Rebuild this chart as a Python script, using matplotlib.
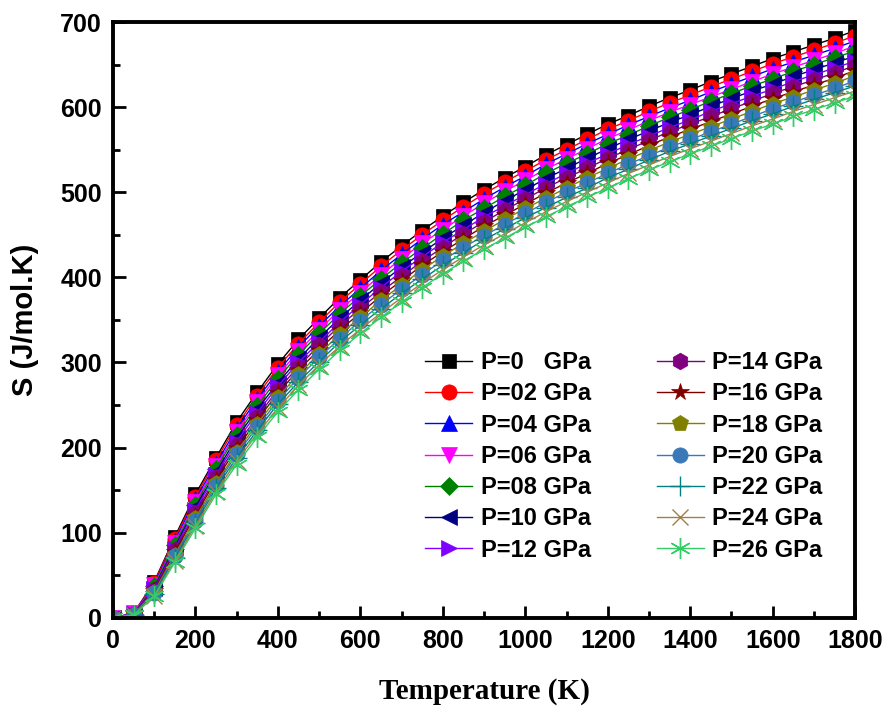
import matplotlib
matplotlib.use("Agg")
import matplotlib.pyplot as plt
from matplotlib.ticker import MultipleLocator

# Temperature grid (K)
temps = [0, 50, 100, 150, 200, 250, 300, 350, 400, 450, 500, 550, 600, 650, 700, 750,
         800, 850, 900, 950, 1000, 1050, 1100, 1150, 1200, 1250, 1300, 1350, 1400,
         1450, 1500, 1550, 1600, 1650, 1700, 1750, 1800]

# Entropy S (J/mol.K) at each pressure
s_p00 = [0, 5, 42, 95, 145, 188, 230, 265, 298, 327, 352, 376, 397, 418, 437, 455, 472, 488, 503, 517, 530, 544, 556, 568, 580, 590, 601, 611, 620, 630, 639, 648, 657, 665, 673, 681, 690]
s_p02 = [0, 5, 41, 93, 142, 185, 226, 261, 294, 322, 347, 371, 392, 413, 432, 450, 467, 483, 498, 512, 525, 538, 550, 562, 574, 584, 595, 605, 614, 624, 633, 642, 651, 659, 667, 675, 684]
s_p04 = [0, 5, 39, 90, 139, 181, 222, 257, 289, 318, 343, 366, 387, 408, 427, 445, 462, 477, 492, 506, 519, 533, 545, 557, 568, 579, 589, 599, 608, 618, 627, 636, 645, 653, 661, 669, 678]
s_p06 = [0, 5, 38, 88, 136, 178, 218, 253, 285, 313, 338, 362, 382, 403, 422, 440, 456, 472, 487, 501, 514, 527, 539, 551, 563, 573, 584, 594, 603, 612, 621, 630, 639, 647, 655, 663, 672]
s_p08 = [0, 4, 37, 86, 133, 175, 215, 249, 281, 309, 334, 357, 378, 398, 417, 434, 451, 467, 481, 495, 508, 522, 534, 545, 557, 567, 578, 588, 597, 607, 616, 625, 633, 642, 650, 658, 666]
s_p10 = [0, 4, 35, 83, 130, 171, 211, 245, 276, 304, 329, 352, 373, 393, 412, 429, 446, 461, 476, 490, 503, 516, 528, 540, 551, 562, 572, 582, 591, 601, 610, 619, 627, 636, 644, 652, 660]
s_p12 = [0, 4, 34, 81, 127, 168, 207, 241, 272, 300, 324, 347, 368, 388, 407, 424, 441, 456, 471, 484, 497, 510, 522, 534, 545, 556, 566, 576, 585, 595, 604, 613, 621, 630, 638, 646, 654]
s_p14 = [0, 4, 33, 79, 123, 165, 203, 236, 268, 295, 320, 343, 363, 383, 401, 419, 435, 451, 465, 479, 492, 505, 517, 528, 540, 550, 561, 571, 580, 589, 598, 607, 616, 624, 632, 640, 649]
s_p16 = [0, 4, 31, 77, 120, 162, 199, 232, 264, 291, 315, 338, 358, 378, 396, 414, 430, 445, 460, 473, 486, 499, 511, 522, 534, 544, 555, 565, 574, 583, 592, 601, 610, 618, 626, 634, 643]
s_p18 = [0, 4, 30, 74, 117, 158, 195, 228, 259, 286, 310, 333, 353, 373, 391, 409, 425, 440, 454, 468, 481, 493, 505, 517, 528, 539, 549, 559, 568, 577, 586, 595, 604, 612, 620, 628, 637]
s_p20 = [0, 3, 29, 72, 114, 155, 192, 224, 255, 282, 306, 328, 349, 368, 386, 403, 420, 435, 449, 462, 475, 488, 500, 511, 522, 533, 543, 553, 562, 571, 580, 589, 598, 606, 614, 622, 631]
s_p22 = [0, 3, 28, 70, 111, 152, 188, 220, 251, 277, 301, 324, 344, 363, 381, 398, 414, 429, 444, 457, 470, 482, 494, 505, 517, 527, 538, 548, 557, 566, 575, 584, 592, 601, 609, 617, 625]
s_p24 = [0, 3, 26, 67, 108, 148, 184, 216, 246, 273, 297, 319, 339, 358, 376, 393, 409, 424, 438, 451, 464, 477, 489, 500, 511, 522, 532, 542, 551, 560, 569, 578, 586, 595, 603, 611, 619]
s_p26 = [0, 3, 25, 65, 105, 145, 180, 212, 242, 268, 292, 314, 334, 353, 371, 388, 404, 419, 433, 446, 459, 471, 483, 494, 505, 516, 526, 536, 545, 554, 563, 572, 580, 589, 597, 605, 613]

labels = ["P=0   GPa", "P=02 GPa", "P=04 GPa", "P=06 GPa", "P=08 GPa", "P=10 GPa", "P=12 GPa",
          "P=14 GPa", "P=16 GPa", "P=18 GPa", "P=20 GPa", "P=22 GPa", "P=24 GPa", "P=26 GPa"]
series = [s_p00, s_p02, s_p04, s_p06, s_p08, s_p10, s_p12,
          s_p14, s_p16, s_p18, s_p20, s_p22, s_p24, s_p26]

# (colour, marker, size)
styles = [
    ("black", "s", 10),
    ("red", "o", 11),
    ("blue", "^", 11),
    ("magenta", "v", 11),
    ("#008000", "D", 9),
    ("#000080", "<", 11),
    ("#8000FF", ">", 11),
    ("#800080", "h", 12),
    ("#800000", "*", 13),
    ("#808000", "p", 12),
    ("#3A78B8", "o", 11),
    ("#008080", "+", 14),
    ("#A0804A", "x", 12),
    ("#33CC66", (6, 2, 0), 15),
]

fig = plt.figure(figsize=(8.89, 7.10), dpi=100)
ax = fig.add_axes([0.127, 0.130, 0.835, 0.839])

for s, lab, (c, m, ms) in zip(series, labels, styles):
    hollow = m in ("+", "x") or isinstance(m, tuple)
    ax.plot(temps, s, color=c, marker=m, markersize=ms, linewidth=1.0,
            markeredgewidth=1.0 if hollow else 0.5,
            markeredgecolor=c, label=lab)

ax.set_xlim(0, 1800)
ax.set_ylim(0, 700)
ax.xaxis.set_major_locator(MultipleLocator(200))
ax.xaxis.set_minor_locator(MultipleLocator(100))
ax.yaxis.set_major_locator(MultipleLocator(100))
ax.yaxis.set_minor_locator(MultipleLocator(50))
ax.tick_params(which="both", direction="in", width=2, top=False, right=False)
ax.tick_params(which="major", length=9, pad=8)
ax.tick_params(which="minor", length=5)
for sp in ax.spines.values():
    sp.set_linewidth(2.8)

for t in ax.get_xticklabels() + ax.get_yticklabels():
    t.set_fontfamily("Liberation Sans")
    t.set_fontweight("bold")
    t.set_fontsize(18)

ax.set_xlabel("Temperature (K)", fontfamily="Liberation Serif", fontweight="bold",
              fontsize=21, labelpad=18)
ax.set_ylabel("S (J/mol.K)", fontfamily="Liberation Sans", fontweight="bold",
              fontsize=21, labelpad=15)

leg = ax.legend(ncol=2, loc="lower right", bbox_to_anchor=(0.956, 0.094), frameon=False,
                prop={"family": "Liberation Sans", "weight": "bold", "size": 17},
                handlelength=2.0, handletextpad=0.35, columnspacing=2.8,
                labelspacing=0.35, borderpad=0, borderaxespad=0)

fig.savefig("out.png", dpi=100)
